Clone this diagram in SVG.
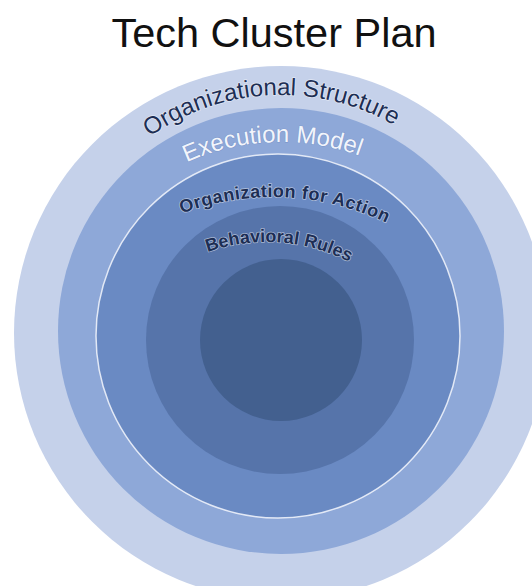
<svg xmlns="http://www.w3.org/2000/svg" width="532" height="586" viewBox="0 0 532 586">
  <style>
    .title { font-family: "Liberation Sans", Arial, sans-serif; font-size: 41.5px; fill: #111111; }
    .lbl { font-family: "Liberation Sans", Arial, sans-serif; paint-order: stroke; stroke-linejoin: round; }
    .dark { fill: #1d2e54; stroke: #ffffff; stroke-opacity: 0.5; stroke-width: 1.5px; }
    .light { fill: #f2f5fb; stroke: #5f7bb3; stroke-opacity: 0.35; stroke-width: 1.2px; }
    .big { font-size: 24px; }
    .small { font-size: 18px; font-weight: bold; }
  </style>
  <defs>
    <!-- baseline arcs for the ring labels -->
    <path id="arc-structure" d="M 54 322 A 227 227 0 0 1 508 322"/>
    <path id="arc-execution" d="M 52 371 A 229 229 0 0 1 510 371"/>
    <path id="arc-action" d="M 12 458 A 261 261 0 0 1 534 458"/>
    <path id="arc-rules" d="M 88 421 A 179 179 0 0 1 446 421"/>
  </defs>

  <rect width="532" height="586" fill="#ffffff"/>

  <text class="title" x="274" y="47" text-anchor="middle">Tech Cluster Plan</text>

  <g id="ring-structure">
    <circle cx="281" cy="333" r="267" fill="#c5d1ea"/>
  </g>
  <g id="ring-execution">
    <circle cx="281" cy="331" r="223" fill="#8ea8d8"/>
  </g>
  <g id="ring-action">
    <circle cx="278" cy="336" r="182" fill="#6a8ac3" stroke="#f4f7fd" stroke-opacity="0.85" stroke-width="1.5"/>
  </g>
  <g id="ring-rules">
    <circle cx="280" cy="340" r="134" fill="#5674aa"/>
  </g>
  <g id="core">
    <circle cx="281" cy="340" r="81" fill="#43608f"/>
  </g>

  <g id="labels">
    <text class="lbl dark big"><textPath href="#arc-structure" startOffset="48.5%" text-anchor="middle">Organizational Structure</textPath></text>
    <text class="lbl light big"><textPath href="#arc-execution" startOffset="48.8%" text-anchor="middle">Execution Model</textPath></text>
    <text class="lbl dark small" letter-spacing="0.5"><textPath href="#arc-action" startOffset="51.5%" text-anchor="middle">Organization for Action</textPath></text>
    <text class="lbl dark small"><textPath href="#arc-rules" startOffset="52.2%" text-anchor="middle">Behavioral Rules</textPath></text>
  </g>
</svg>
